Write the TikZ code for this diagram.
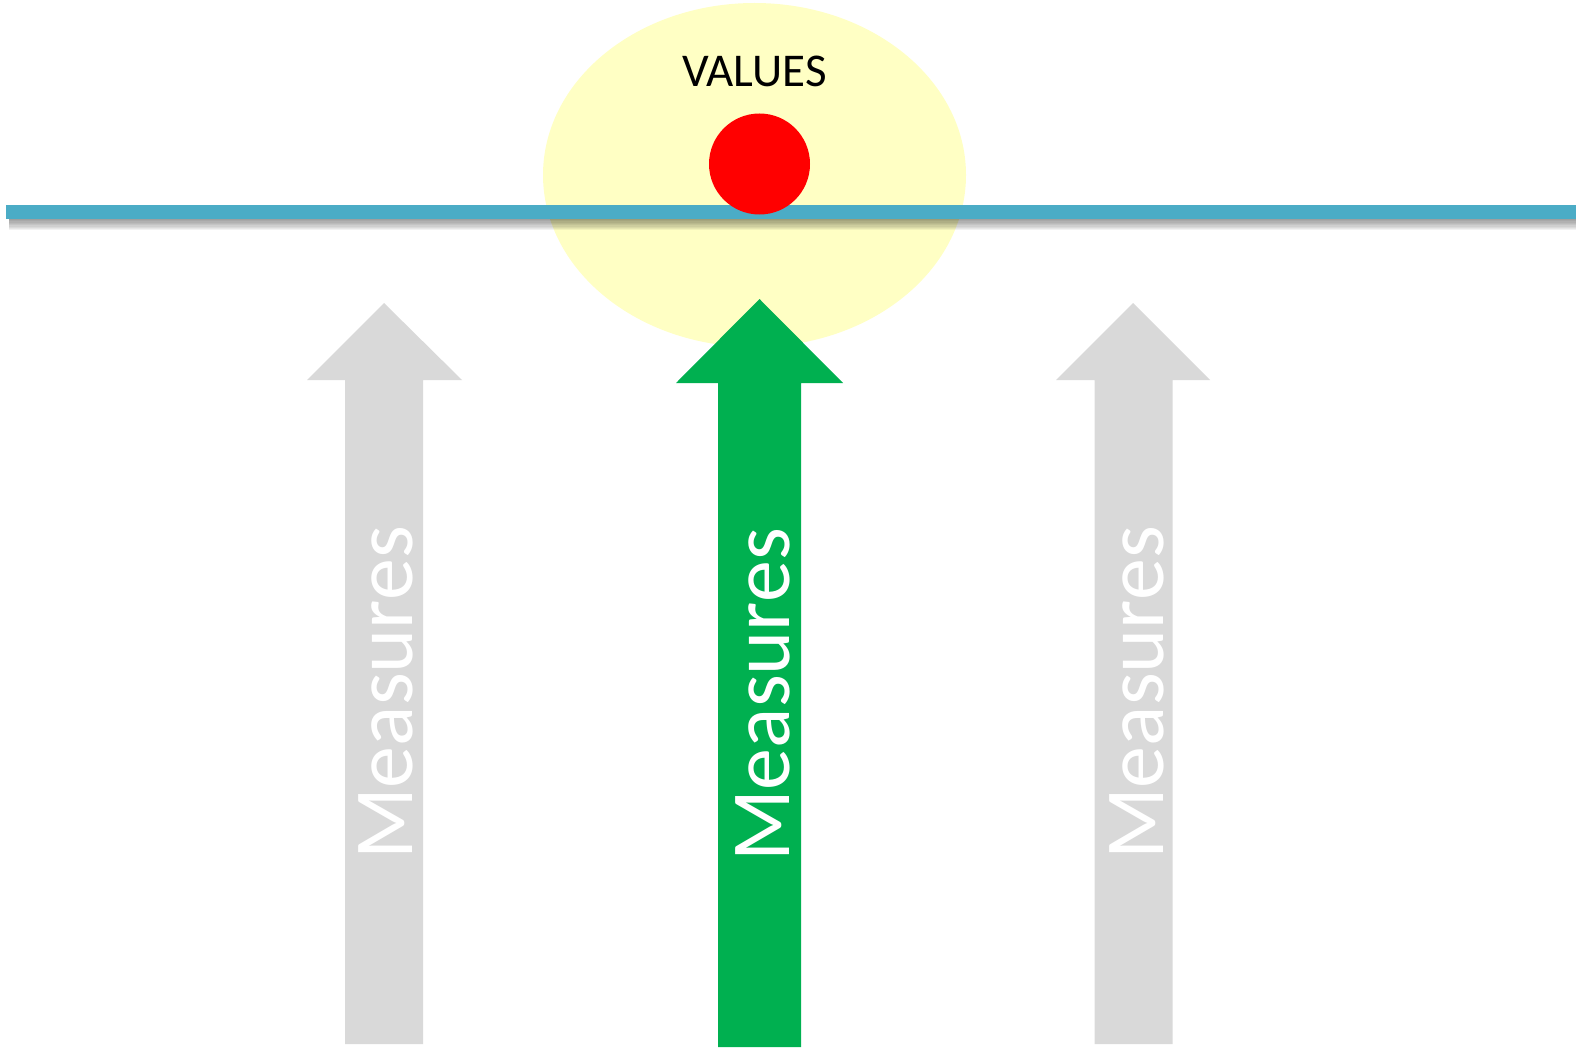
\documentclass[tikz,border=0pt]{standalone}
\usepackage{fontspec}
\setmainfont{Carlito}
\definecolor{ellyellow}{RGB}{255,255,196}
\definecolor{lineblue}{RGB}{75,172,198}
\definecolor{arrgreen}{RGB}{0,176,80}
\definecolor{arrgray}{RGB}{217,217,217}
\begin{document}
\begin{tikzpicture}[x=1pt,y=-1pt,
  measlabel/.style={rotate=90,anchor=base,text=white,inner sep=0pt,
    font=\fontsize{84}{90}\selectfont},
  grayarrow/.style={fill=arrgray,draw=none},
  greenarrow/.style={fill=arrgreen,draw=none}]
\useasboundingbox (0,0) rectangle (1576,1051);
% yellow ellipse
\fill[ellyellow] (754.5,175) ellipse [x radius=211.5, y radius=172];
% shadow of the line
\foreach \i in {1,...,9}{
  \fill[black,opacity=0.05] (9,212) rectangle (1576,{218.7+\i*1.3});
}
% blue line
\fill[lineblue] (6,205.3) rectangle (1576,218.7);
% red circle
\fill[red] (759.5,164) circle [radius=50.5];
% VALUES
\node[anchor=base,inner sep=0pt,font=\fontsize{47}{52}\selectfont] (values) at (754.5,87) {VALUES};
% left gray arrow
\fill[grayarrow] (345,1044) -- (345,380) -- (307,380) -- (384,303) -- (462,380) -- (423,380) -- (423,1044) -- cycle;
% green arrow
\fill[greenarrow] (718,1047) -- (718,383) -- (676,383) -- (759.5,299) -- (843,383) -- (801,383) -- (801,1047) -- cycle;
% right gray arrow
\fill[grayarrow] (1094.5,1044) -- (1094.5,380) -- (1056,380) -- (1133,303) -- (1210,380) -- (1172.5,380) -- (1172.5,1044) -- cycle;
% labels
\node[measlabel] (mleft) at (412,693) {Measures};
\node[measlabel] (mmid) at (789,695) {Measures};
\node[measlabel] (mright) at (1163,693) {Measures};
\end{tikzpicture}
\end{document}
